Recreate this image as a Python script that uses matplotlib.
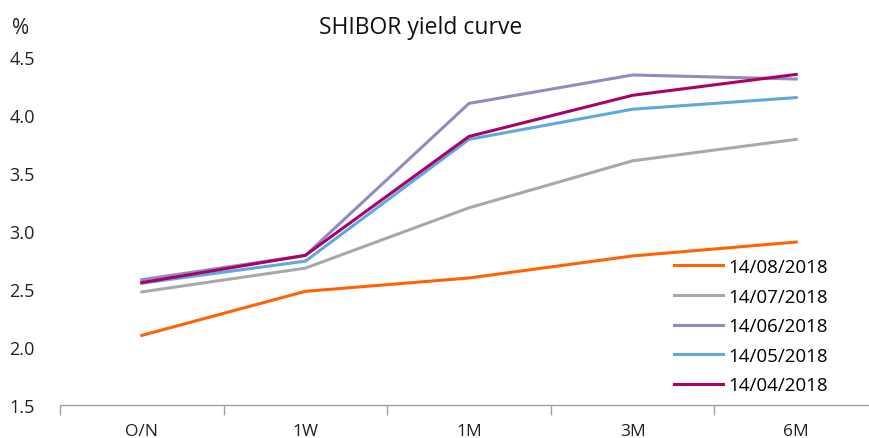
import numpy as np
import matplotlib.pyplot as plt

tenors = ["O/N", "1W", "1M", "3M", "6M"]

aug_2018 = [2.10, 2.48, 2.595, 2.785, 2.905]
jul_2018 = [2.475, 2.68, 3.20, 3.605, 3.79]
jun_2018 = [2.58, 2.79, 4.10, 4.345, 4.31]
may_2018 = [2.55, 2.74, 3.79, 4.05, 4.15]
apr_2018 = [2.555, 2.79, 3.815, 4.17, 4.35]

series = [
    ("14/08/2018", aug_2018, "#FF6200"),
    ("14/07/2018", jul_2018, "#A8A8A8"),
    ("14/06/2018", jun_2018, "#8D8DC4"),
    ("14/05/2018", may_2018, "#5FA8DE"),
    ("14/04/2018", apr_2018, "#AB0066"),
]

plt.rcParams["font.family"] = ["Open Sans", "DejaVu Sans"]

fig = plt.figure(figsize=(8.69, 4.39), dpi=100)
ax = fig.add_axes([60 / 869, 1 - 406 / 439, 818 / 869, (406 - 58) / 439])

x = np.arange(len(tenors))
for label, values, color in series:
    ax.plot(x, values, color=color, linewidth=2.2, label=label)

ax.set_xlim(-0.5, len(tenors) - 0.5)
ax.set_ylim(1.5, 4.5)
ax.set_yticks([1.5, 2.0, 2.5, 3.0, 3.5, 4.0, 4.5])
ax.set_yticklabels([f"{v:.1f}" for v in ax.get_yticks()])

ax.set_xticks(x)
ax.set_xticklabels(tenors)
ax.set_xticks(np.arange(-0.5, len(tenors)), minor=True)
ax.tick_params(axis="x", which="major", length=0, pad=13, labelsize=12.5, colors="#222222")
ax.tick_params(axis="x", which="minor", length=7, width=1, color="#A0A0A0", direction="out")
ax.tick_params(axis="y", length=0, pad=18, labelsize=13, colors="#222222")

for side in ["top", "right", "left"]:
    ax.spines[side].set_visible(False)
ax.spines["bottom"].set_color("#A0A0A0")
ax.spines["bottom"].set_linewidth(1)

fig.text(12 / 869, 1 - 28 / 439, "%", fontsize=15, va="center", ha="left", color="#222222")
fig.text(421 / 869, 1 - 28 / 439, "SHIBOR yield curve", fontsize=16.5, va="center", ha="center", color="#111111")

ax.legend(loc="upper left", bbox_to_anchor=(614 / 818, 1 - (259 - 58) / 348),
          frameon=False, fontsize=13.5, handlelength=2.6, handletextpad=0.3,
          labelspacing=0.62, borderaxespad=0, borderpad=0)

fig.savefig("out.png", dpi=100)
